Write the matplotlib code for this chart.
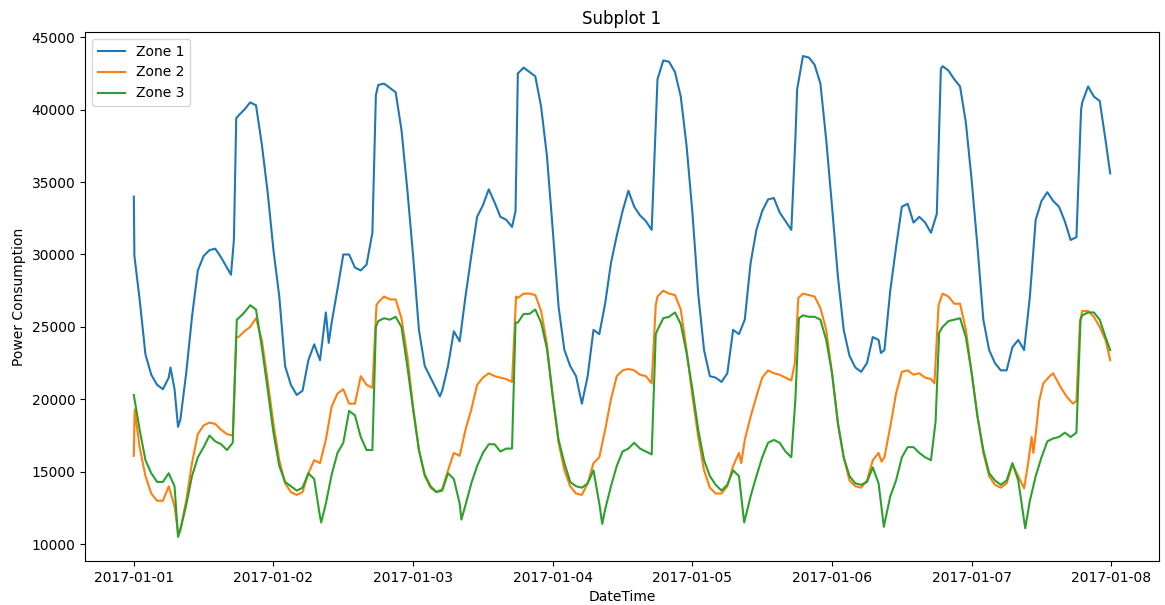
import numpy as np
import pandas as pd
import matplotlib
matplotlib.use("Agg")
import matplotlib.pyplot as plt

# Hours after 2017-01-01 00:00 and power consumption per zone
zone1_hours = [0, 0.1, 1, 2, 3, 4, 5, 6, 6.3, 7, 7.6, 8, 9, 10, 11, 12, 13, 14, 15, 16, 16.7, 17.2, 17.6,
               18, 19, 20, 21, 22, 23, 24, 25, 26, 27, 28, 29, 30, 31, 32, 33, 33.5, 34, 35, 36, 37, 38,
               39, 40, 41, 41.6, 42, 43, 44, 45, 46, 47, 48, 49, 50, 51, 52, 52.6, 53, 54, 55, 56, 57,
               58, 59, 60, 61, 62, 63, 64, 65, 65.6, 66, 67, 68, 69, 70, 71, 72, 73, 74, 75, 76, 77, 78,
               79, 80, 81, 82, 83, 84, 85, 86, 87, 88, 89, 89.6, 90, 91, 92, 93, 94, 95, 96, 97, 98, 99,
               100, 101, 102, 103, 104, 105, 106, 107, 108, 109, 110, 111, 112, 113, 113.7, 114, 115,
               116, 117, 118, 119, 120, 121, 122, 123, 124, 125, 126, 127, 128, 128.4, 129, 130, 131,
               132, 133, 134, 135, 136, 137, 138, 138.7, 139, 140, 141, 142, 143, 144, 145, 146, 147,
               148, 149, 150, 151, 152, 153, 154, 155, 156, 157, 158, 159, 160, 161, 162, 162.8, 163,
               164, 165, 166, 167, 167.8]
zone1_values = [34000, 29900, 26900, 23100, 21700, 21000, 20700, 21500, 22200, 20700, 18100, 18600, 21800,
                25700, 28900, 29900, 30300, 30400, 29800, 29100, 28600, 31000, 39400, 39600, 40000,
                40500, 40300, 37600, 34300, 30300, 27100, 22300, 21000, 20300, 20600, 22700, 23800,
                22700, 26000, 23900, 25300, 27600, 30000, 30000, 29100, 28900, 29300, 31500, 41000,
                41700, 41800, 41500, 41200, 38600, 34500, 29900, 24800, 22300, 21500, 20700, 20200,
                20600, 22300, 24700, 24000, 27100, 29900, 32600, 33400, 34500, 33600, 32600, 32400,
                31900, 33000, 42500, 42900, 42600, 42300, 40200, 36800, 31700, 26400, 23400, 22300,
                21600, 19700, 21600, 24800, 24500, 26600, 29400, 31300, 33000, 34400, 33300, 32700,
                32300, 31700, 38000, 42100, 43400, 43300, 42600, 40900, 37500, 32900, 27300, 23400,
                21600, 21500, 21200, 21800, 24800, 24500, 25500, 29400, 31700, 33000, 33800, 33900,
                32900, 32300, 31700, 38000, 41400, 43700, 43600, 43100, 41800, 37900, 33300, 28500,
                24800, 23000, 22200, 21900, 22500, 24300, 24100, 23200, 23400, 27500, 30500, 33300,
                33500, 32200, 32600, 32200, 31500, 32800, 42800, 43000, 42700, 42100, 41600, 39100,
                35100, 30500, 25500, 23400, 22500, 22000, 22000, 23600, 24100, 23400, 27100, 32400,
                33700, 34300, 33700, 33300, 32300, 31000, 31200, 40000, 40500, 41600, 40900, 40600,
                37900, 35600]

zone2_hours = [0, 0.15, 1, 2, 3, 4, 5, 6, 7, 7.6, 8, 9, 10, 11, 12, 13, 14, 15, 16, 17, 17.6, 18, 19, 20,
               21, 22, 23, 24, 25, 26, 27, 28, 29, 30, 31, 32, 33, 34, 35, 36, 37, 38, 39, 40, 41, 41.7,
               42, 43, 44, 45, 46, 47, 48, 49, 50, 51, 52, 53, 54, 55, 56, 57, 58, 59, 60, 61, 62, 63,
               64, 65, 65.7, 66, 67, 68, 69, 70, 71, 72, 73, 74, 75, 76, 77, 78, 79, 80, 81, 82, 83, 84,
               85, 86, 87, 88, 89, 89.7, 90, 91, 92, 93, 94, 95, 96, 97, 98, 99, 100, 101, 102, 103,
               104, 104.4, 105, 106, 107, 108, 109, 110, 111, 112, 113, 113.6, 114.2, 115, 116, 117,
               118, 119, 120, 121, 122, 123, 124, 125, 126, 127, 128, 128.5, 129, 130, 131, 132, 133,
               134, 135, 136, 137, 137.6, 138.3, 139, 140, 141, 142, 143, 144, 145, 146, 147, 148, 149,
               150, 151, 152, 153, 153.7, 154.3, 154.6, 155, 155.6, 156.3, 157.4, 158, 159.2, 160.3,
               161.4, 162, 162.6, 163, 164, 165, 166, 167, 167.8]
zone2_values = [16100, 19300, 16700, 14700, 13500, 13000, 13000, 14000, 12600, 10800, 11000, 13000, 15600,
                17600, 18200, 18400, 18300, 17900, 17600, 17500, 24300, 24300, 24700, 25000, 25600,
                24100, 21300, 18300, 15800, 14200, 13600, 13400, 13600, 14900, 15800, 15600, 17200,
                19500, 20400, 20700, 19700, 19700, 21600, 21000, 20800, 26500, 26700, 27100, 26900,
                26900, 25600, 23000, 19500, 16500, 14700, 13900, 13600, 13800, 15100, 16300, 16100,
                17900, 19300, 21000, 21500, 21800, 21600, 21500, 21400, 21200, 27100, 27000, 27300,
                27300, 27200, 26100, 23800, 20200, 17000, 15100, 14000, 13500, 13400, 14200, 15600,
                16000, 17900, 20000, 21600, 22000, 22100, 22000, 21700, 21600, 21100, 26500, 27100,
                27500, 27300, 27200, 26200, 23400, 20200, 17400, 15100, 13900, 13500, 13500, 14000,
                15400, 16300, 15600, 17200, 18800, 20200, 21500, 22000, 21800, 21700, 21500, 21300,
                22500, 27000, 27300, 27200, 27100, 26300, 24800, 21800, 18300, 16000, 14400, 14000,
                13900, 14400, 15800, 16300, 15700, 16000, 18100, 20400, 21900, 22000, 21700, 21800,
                21500, 21400, 21100, 26500, 27300, 27100, 26600, 26600, 24800, 21800, 18800, 16300,
                14700, 14100, 13900, 14200, 15500, 14700, 13850, 15600, 17400, 16300, 17600, 19900,
                21100, 21600, 21800, 20900, 20200, 19700, 19900, 25300, 26100, 26100, 25700, 25000,
                24100, 22700]

zone3_hours = [0, 1, 2, 3, 4, 5, 6, 7, 7.6, 8, 9, 10, 11, 12, 13, 14, 15, 16, 17, 17.7, 18, 19, 20, 21,
               22, 23, 24, 25, 26, 27, 28, 29, 30, 31, 32, 32.2, 33, 34, 35, 36, 37, 38, 39, 40, 41,
               41.6, 42, 43, 44, 45, 46, 47, 48, 49, 50, 51, 52, 53, 54, 55, 56, 56.3, 57, 58, 59, 60,
               61, 62, 63, 64, 65, 65.6, 66, 67, 68, 69, 70, 71, 72, 73, 74, 75, 76, 77, 78, 79, 80,
               80.5, 81, 82, 83, 84, 85, 86, 87, 88, 89, 89.7, 90, 91, 92, 93, 94, 95, 96, 97, 98, 99,
               100, 101, 102, 103, 104, 104.9, 106, 107, 108, 109, 110, 111, 112, 113, 113.7, 114.3,
               115, 116, 117, 118, 119, 120, 121, 122, 123, 124, 125, 126, 127, 128, 128.9, 130, 131,
               132, 133, 134, 135, 136, 137, 137.8, 138.4, 139, 140, 141, 142, 143, 144, 145, 146, 147,
               148, 149, 150, 151, 152, 153.2, 154, 155, 156, 157, 158, 159, 160, 161, 162, 162.7, 163,
               164, 165, 166, 167, 167.8]
zone3_values = [20300, 17900, 15800, 14900, 14300, 14300, 14900, 14000, 10500, 11000, 12700, 14700, 16000,
                16700, 17500, 17100, 16900, 16500, 17000, 25500, 25600, 26000, 26500, 26200, 23600,
                20700, 17700, 15400, 14300, 14000, 13700, 13900, 14900, 14500, 11900, 11500, 12800,
                14800, 16300, 17000, 19200, 18900, 17400, 16500, 16500, 25000, 25400, 25600, 25500,
                25700, 25000, 22300, 19300, 16500, 14800, 14000, 13600, 13700, 14900, 14500, 12800,
                11700, 12700, 14200, 15400, 16300, 16900, 16900, 16400, 16600, 16600, 25300, 25300,
                25900, 25900, 26200, 25300, 23500, 20200, 17200, 15600, 14300, 14000, 13900, 14200,
                15100, 12800, 11400, 12400, 14000, 15400, 16400, 16600, 17000, 16600, 16400, 16200,
                24500, 24800, 25600, 25700, 26000, 25200, 23200, 20700, 17900, 15800, 14700, 14100,
                13700, 14100, 15100, 14700, 11500, 13300, 14700, 16000, 17000, 17200, 17000, 16400,
                16000, 20000, 25600, 25800, 25700, 25700, 25500, 24100, 21800, 18400, 16000, 14700,
                14200, 14100, 14300, 15300, 14200, 11200, 13300, 14400, 16000, 16700, 16700, 16300,
                16000, 15800, 18500, 24600, 25000, 25400, 25500, 25600, 24300, 21800, 18800, 16500,
                14900, 14400, 14100, 14400, 15600, 14400, 11100, 13000, 14700, 16000, 17100, 17300,
                17400, 17700, 17400, 17700, 25500, 25800, 26000, 26000, 25500, 24300, 23400]

start = pd.Timestamp("2017-01-01")


def to_times(hours):
    return start + pd.to_timedelta(np.asarray(hours, dtype=float), unit="h")


fig = plt.figure(figsize=(11.65, 6.05), dpi=100)
ax = fig.add_axes([85 / 1165, 1 - 561 / 605, (1159 - 85) / 1165, (561 - 32) / 605])

ax.plot(to_times(zone1_hours), zone1_values, label="Zone 1")
ax.plot(to_times(zone2_hours), zone2_values, label="Zone 2")
ax.plot(to_times(zone3_hours), zone3_values, label="Zone 3")

ax.set_title("Subplot 1")
ax.set_xlabel("DateTime")
ax.set_ylabel("Power Consumption")
ax.legend(loc="upper left")

fig.savefig("out.png", dpi=100)
